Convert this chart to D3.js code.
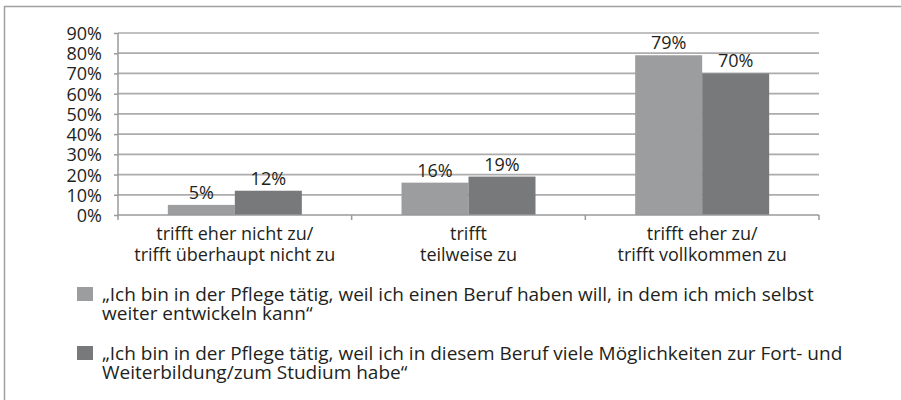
<!DOCTYPE html>
<html>
<head>
<meta charset="utf-8">
<script src="https://cdn.jsdelivr.net/npm/d3@7"></script>
<style>
  body { margin: 0; background: #fff; }
  text { font-family: "Open Sans", "Noto Sans", sans-serif; fill: #231f20; }
</style>
</head>
<body>
<div id="chart"></div>
<script>
// categories (two lines each) and series values in percent
var categories = [
  ["trifft eher nicht zu/", "trifft überhaupt nicht zu"],
  ["trifft", "teilweise zu"],
  ["trifft eher zu/", "trifft vollkommen zu"]
];
var seriesNames = [
  ["„Ich bin in der Pflege tätig, weil ich einen Beruf haben will, in dem ich mich selbst", "weiter entwickeln kann“"],
  ["„Ich bin in der Pflege tätig, weil ich in diesem Beruf viele Möglichkeiten zur Fort- und", "Weiterbildung/zum Studium habe“"]
];
var selfDevelopment = [5, 16, 79];
var furtherTraining = [12, 19, 70];
var yTicks = [0, 10, 20, 30, 40, 50, 60, 70, 80, 90];

var colors = ["#9c9d9f", "#78797b"];
var W = 901, H = 400;
var plot = {left: 118, right: 819, top: 33, bottom: 215};

var svg = d3.select("#chart").append("svg").attr("width", W).attr("height", H);

// outer frame: left and top edges only
svg.append("path")
  .attr("d", "M4.5," + H + "V6.5H" + W)
  .attr("fill", "none").attr("stroke", "#a0a0a0").attr("stroke-width", 1.5);

var x = d3.scaleBand().domain(d3.range(categories.length))
  .range([plot.left, plot.right]);
var y = d3.scaleLinear().domain([0, 90]).range([plot.bottom, plot.top]);
var barW = 67;
var inner = d3.scaleBand().domain([0, 1]).range([0, barW * 2]);

// gridlines
svg.append("g").selectAll("line").data(yTicks.slice(1)).enter().append("line")
  .attr("x1", plot.left).attr("x2", plot.right)
  .attr("y1", function(d){ return y(d); }).attr("y2", function(d){ return y(d); })
  .attr("stroke", "#acacae").attr("stroke-width", 1.7);

// y axis
var yAxis = svg.append("g").attr("transform", "translate(" + plot.left + ",0)")
  .call(d3.axisLeft(y).tickValues(yTicks).tickSize(4).tickPadding(12)
    .tickFormat(function(d){ return d + "%"; }));
yAxis.select(".domain").remove();
yAxis.selectAll(".tick line").attr("stroke", "#9a9a9a").attr("stroke-width", 1.5);
yAxis.selectAll(".tick text").attr("font-size", 18).attr("font-family", null)
  .attr("fill", "#231f20").attr("dy", "0.36em");
yAxis.append("line").attr("x1", 0).attr("x2", 0).attr("y1", plot.top).attr("y2", plot.bottom)
  .attr("stroke", "#9a9a9a").attr("stroke-width", 1.5);

// bars
var series = [selfDevelopment, furtherTraining];
series.forEach(function(vals, s){
  var g = svg.append("g");
  g.selectAll("rect").data(vals).enter().append("rect")
    .attr("x", function(d, i){ return x(i) + (x.bandwidth() - barW * 2) / 2 + inner(s); })
    .attr("width", barW)
    .attr("y", function(d){ return y(d); })
    .attr("height", function(d){ return y(0) - y(d); })
    .attr("fill", colors[s]);
  g.selectAll("text").data(vals).enter().append("text")
    .attr("x", function(d, i){ return x(i) + (x.bandwidth() - barW * 2) / 2 + inner(s) + barW / 2; })
    .attr("y", function(d){ return y(d) - 6; })
    .attr("text-anchor", "middle").attr("font-size", 18)
    .text(function(d){ return d + "%"; });
});

// x axis
svg.append("line").attr("x1", plot.left).attr("x2", plot.right)
  .attr("y1", plot.bottom).attr("y2", plot.bottom)
  .attr("stroke", "#9a9a9a").attr("stroke-width", 1.5);
svg.append("g").selectAll("line").data(d3.range(categories.length + 1)).enter().append("line")
  .attr("x1", function(i){ return plot.left + i * x.step(); })
  .attr("x2", function(i){ return plot.left + i * x.step(); })
  .attr("y1", plot.bottom).attr("y2", plot.bottom + 5)
  .attr("stroke", "#9a9a9a").attr("stroke-width", 1.5);

var catText = svg.append("g").selectAll("text").data(categories).enter().append("text")
  .attr("text-anchor", "middle").attr("font-size", 18);
catText.selectAll("tspan").data(function(d, i){ return d.map(function(t){ return {t: t, i: i}; }); })
  .enter().append("tspan")
  .attr("x", function(d){ return x(d.i) + x.bandwidth() / 2; })
  .attr("y", function(d, j){ return 240 + j * 21; })
  .text(function(d){ return d.t; });

// legend
var legend = svg.append("g").selectAll("g").data(seriesNames).enter().append("g")
  .attr("transform", function(d, i){ return "translate(77," + (287 + i * 59) + ")"; });
legend.append("rect").attr("width", 16).attr("height", 14)
  .attr("fill", function(d, i){ return colors[i]; });
legend.append("text").attr("font-size", 19)
  .selectAll("tspan").data(function(d){ return d; }).enter().append("tspan")
  .attr("x", 25).attr("y", function(d, j){ return 14 + j * 19; })
  .text(function(d){ return d; });
</script>
</body>
</html>
